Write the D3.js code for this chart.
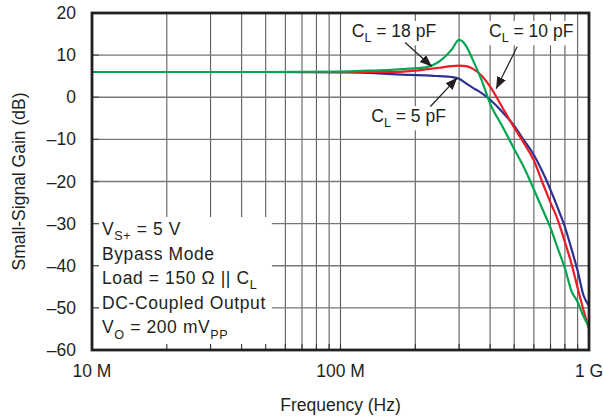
<!DOCTYPE html>
<html>
<head>
<meta charset="utf-8">
<script src="https://cdn.jsdelivr.net/npm/d3@7"></script>
<style>
  body { margin: 0; background: #fff; }
  text { font-family: "Liberation Sans", Arial, Helvetica, sans-serif; fill: #231f20; }
</style>
</head>
<body>
<div id="vis"></div>
<script>
// frequency points (MHz) shared by all three traces
var freqMHz   = [10, 20, 50, 100, 130, 160, 190, 220, 250, 280, 300, 320, 340, 370, 400, 450, 500, 550, 600, 650, 700, 750, 800, 850, 900, 950, 1000];
var gain5pF   = [6.0, 6.0, 6.0, 5.9, 5.8, 5.5, 5.3, 5.2, 5.0, 4.8, 4.4, 3.3, 2.3, 1.0, -0.6, -3.6, -6.8, -10.4, -13.7, -17.7, -22.0, -26.4, -30.8, -36.0, -41.2, -47.0, -49.5];
var gain10pF  = [6.0, 6.0, 6.0, 6.0, 6.0, 6.0, 6.2, 6.6, 7.0, 7.4, 7.5, 7.4, 6.8, 5.1, 2.5, -2.6, -7.2, -11.1, -15.0, -20.3, -25.0, -29.2, -34.4, -39.5, -45.3, -50.5, -55.0];
var gain18pF  = [6.0, 6.0, 6.0, 6.1, 6.3, 6.5, 6.8, 7.1, 8.5, 11.3, 13.6, 12.2, 9.0, 4.0, -1.5, -7.1, -12.3, -16.9, -21.9, -26.6, -31.0, -36.0, -40.6, -46.0, -48.6, -52.0, -54.5];

var yTicks = [20, 10, 0, -10, -20, -30, -40, -50, -60];
var xTickFreqMHz = [10, 100, 1000];
var xTickLabels = ["10 M", "100 M", "1 G"];

var width = 603, height = 417;
var margin = {left: 92, right: 14, top: 13, bottom: 67};

var svg = d3.select("#vis").append("svg")
    .attr("width", width)
    .attr("height", height);

var x = d3.scaleLog()
    .domain([1e7, 1e9])
    .range([margin.left, width - margin.right]);

var y = d3.scaleLinear()
    .domain([-60, 20])
    .range([height - margin.bottom, margin.top]);

var x0 = x.range()[0], x1 = x.range()[1];
var y0 = y.range()[0], y1 = y.range()[1];

// grid
var grid = svg.append("g");
grid.selectAll(".vg")
    .data(x.ticks())
    .enter().append("line")
    .attr("x1", d => x(d)).attr("x2", d => x(d))
    .attr("y1", y0).attr("y2", y1)
    .attr("stroke", "#5e5e5e").attr("stroke-width", 1.1);
grid.selectAll(".hg")
    .data(yTicks)
    .enter().append("line")
    .attr("x1", x0).attr("x2", x1)
    .attr("y1", d => y(d)).attr("y2", d => y(d))
    .attr("stroke", "#777").attr("stroke-width", 1.4);

// conditions box (white, covers the grid)
var legendLines = [
    [["V", 0], ["S+", 1], [" = 5 V", 0]],
    [["Bypass Mode", 0]],
    [["Load = 150 \u03A9 || C", 0], ["L", 1]],
    [["DC-Coupled Output", 0]],
    [["V", 0], ["O", 1], [" = 200 mV", 0], ["PP", 1]]
];

function richText(sel, parts, size) {
    parts.forEach(function (p, i) {
        var prevSub = i > 0 && parts[i - 1][1];
        var t = sel.append("tspan").text(p[0]);
        if (p[1]) {
            t.attr("font-size", size * 0.72).attr("dy", size * 0.3);
        } else {
            t.attr("font-size", size);
            if (prevSub) t.attr("dy", -size * 0.3);
        }
    });
}

var legBg = svg.append("rect").attr("fill", "#fff");
var legG = svg.append("g");
legendLines.forEach(function (line, i) {
    var t = legG.append("text")
        .attr("x", 102)
        .attr("y", 235 + i * 24.6)
        .attr("letter-spacing", 0.6);
    richText(t, line, 17.5);
});
var lb = legG.node().getBBox();
legBg.attr("x", x0).attr("y", 217)
    .attr("width", lb.x + lb.width + 6 - x0)
    .attr("height", y0 - 217);

// inner ticks
svg.selectAll(".xt")
    .data(x.ticks())
    .enter().append("line")
    .attr("x1", d => x(d)).attr("x2", d => x(d))
    .attr("y1", y0).attr("y2", y0 - 6)
    .attr("stroke", "#333").attr("stroke-width", 1.1);
svg.selectAll(".yt")
    .data(yTicks)
    .enter().append("line")
    .attr("x1", x0).attr("x2", x0 + 7)
    .attr("y1", d => y(d)).attr("y2", d => y(d))
    .attr("stroke", "#555").attr("stroke-width", 1.4);

// traces
var series = [
    {name: "5 pF", values: gain5pF, color: "#2e3192"},
    {name: "10 pF", values: gain10pF, color: "#ed1c24"},
    {name: "18 pF", values: gain18pF, color: "#00a651"}
];

var line = d3.line()
    .x((d, i) => x(freqMHz[i] * 1e6))
    .y(d => y(d))
    .curve(d3.curveMonotoneX);

svg.selectAll(".trace")
    .data(series)
    .enter().append("path")
    .attr("d", d => line(d.values))
    .attr("fill", "none")
    .attr("stroke", d => d.color)
    .attr("stroke-width", 2.2);

// frame
svg.append("rect")
    .attr("x", x0).attr("y", y1)
    .attr("width", x1 - x0).attr("height", y0 - y1)
    .attr("fill", "none")
    .attr("stroke", "#231f20")
    .attr("stroke-width", 2.8);

// tick labels
svg.selectAll(".yl")
    .data(yTicks)
    .enter().append("text")
    .attr("x", 76)
    .attr("y", d => y(d) + 6)
    .attr("text-anchor", "end")
    .attr("font-size", 17.5)
    .text(d => d < 0 ? "\u2013" + Math.abs(d) : d);

svg.selectAll(".xl")
    .data(xTickFreqMHz)
    .enter().append("text")
    .attr("x", d => x(d * 1e6))
    .attr("y", 377)
    .attr("text-anchor", "middle")
    .attr("font-size", 17.5)
    .text((d, i) => xTickLabels[i]);

svg.append("text")
    .attr("x", (x0 + x1) / 2)
    .attr("y", 411)
    .attr("text-anchor", "middle")
    .attr("font-size", 17.5)
    .text("Frequency (Hz)");

svg.append("text")
    .attr("transform", "translate(25," + ((y0 + y1) / 2) + ") rotate(-90)")
    .attr("text-anchor", "middle")
    .attr("font-size", 17.5)
    .text("Small-Signal Gain (dB)");

// annotations: label position and arrow (from -> tip) in data units
var notes = [
    {parts: [["C", 0], ["L", 1], [" = 18 pF", 0]], lx: 111e6, ly: 14.3, from: [182e6, 13.0], tip: [233e6, 7.3]},
    {parts: [["C", 0], ["L", 1], [" = 10 pF", 0]], lx: 396e6, ly: 14.3, from: [514e6, 12.0], tip: [423e6, 2.0]},
    {parts: [["C", 0], ["L", 1], [" = 5 pF", 0]], lx: 133e6, ly: -5.9, from: [230e6, -2.2], tip: [295e6, 4.6]}
];

svg.append("defs").append("marker")
    .attr("id", "head")
    .attr("viewBox", "0 0 10 10")
    .attr("refX", 10).attr("refY", 5)
    .attr("markerWidth", 12).attr("markerHeight", 12)
    .attr("markerUnits", "userSpaceOnUse")
    .attr("orient", "auto")
    .append("path")
    .attr("d", "M0,1 L10,5 L0,9 Z")
    .attr("fill", "#231f20");

notes.forEach(function (n) {
    var bg = svg.append("rect").attr("fill", "#fff");
    var t = svg.append("text")
        .attr("x", x(n.lx))
        .attr("y", y(n.ly));
    richText(t, n.parts, 17.5);
    var b = t.node().getBBox();
    bg.attr("x", b.x - 3).attr("y", b.y).attr("width", b.width + 6).attr("height", b.height);
    svg.append("line")
        .attr("x1", x(n.from[0])).attr("y1", y(n.from[1]))
        .attr("x2", x(n.tip[0])).attr("y2", y(n.tip[1]))
        .attr("stroke", "#231f20")
        .attr("stroke-width", 1.2)
        .attr("marker-end", "url(#head)");
});
</script>
</body>
</html>
